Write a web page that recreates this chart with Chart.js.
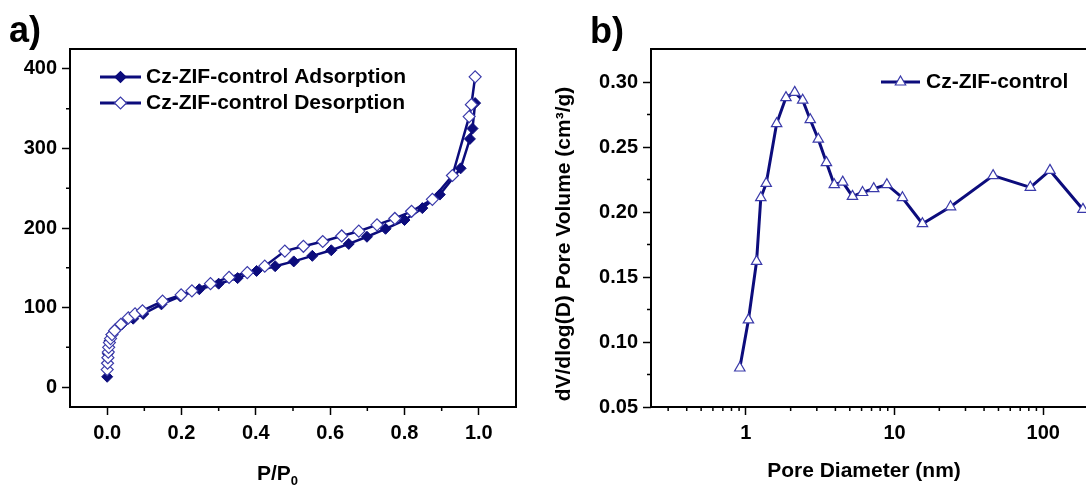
<!DOCTYPE html>
<html>
<head>
<meta charset="utf-8">
<title>Cz-ZIF-control isotherm and pore size distribution</title>
<script src="https://cdn.jsdelivr.net/npm/chart.js@4.4.1/dist/chart.umd.min.js"></script>
<style>
    html, body { margin: 0; padding: 0; background: #fff; overflow: hidden; width: 1086px; height: 485px; }
    .panel { position: absolute; top: 0; height: 485px; }
    #panelA { left: 0; width: 540px; }
    #panelB { left: 540px; width: 600px; }
</style>
</head>
<body>
<div class="panel" id="panelA"><canvas id="isoChart"></canvas></div>
<div class="panel" id="panelB"><canvas id="poreChart"></canvas></div>
<script>
// =========================================================
// Data  –  panel a) N2 isotherm
// =========================================================

const adsP = [0.000, 0.002, 0.006, 0.012, 0.022, 0.040, 0.070, 0.097, 0.146, 0.197, 0.248, 0.300,
              0.351, 0.402, 0.452, 0.502, 0.552, 0.603, 0.650, 0.699, 0.749, 0.800, 0.848, 0.895,
              0.951, 0.976, 0.983, 0.990];
const adsV = [13, 42, 58, 66, 73, 79, 86, 92, 104, 114, 123, 130,
              137, 146, 152, 158, 165, 172, 180, 189, 199, 210, 225, 242,
              275, 312, 325, 357];

const desP = [0.000, 0.001, 0.002, 0.003, 0.004, 0.006, 0.009, 0.013, 0.020, 0.037, 0.057, 0.075,
              0.095, 0.149, 0.199, 0.228, 0.278, 0.328, 0.377, 0.424, 0.478, 0.528, 0.580, 0.631,
              0.677, 0.726, 0.774, 0.819, 0.875, 0.929, 0.974, 0.980, 0.990];
const desV = [22, 30, 37, 44, 50, 56, 61, 66, 71, 79, 87, 92,
              96, 108, 116, 121, 130, 138, 144, 152, 171, 177, 183, 190,
              196, 204, 212, 221, 236, 266, 340, 355, 390];

const isoMajorX = [0.0, 0.2, 0.4, 0.6, 0.8, 1.0];
const isoMinorX = [0.1, 0.3, 0.5, 0.7, 0.9];
const isoMajorY = [0, 100, 200, 300, 400];
const isoMinorY = [50, 150, 250, 350];

// =========================================================
// Data  –  panel b) pore size distribution
// =========================================================

const poreD = [0.91, 1.04, 1.18, 1.26, 1.37, 1.61, 1.86, 2.13, 2.41, 2.71, 3.07, 3.48,
               3.93, 4.48, 5.21, 6.09, 7.24, 8.88, 11.3, 15.4, 23.8, 46.0, 81.9, 111, 185];
const poreV = [0.080, 0.117, 0.162, 0.211, 0.222, 0.268, 0.288, 0.292, 0.286, 0.271, 0.256, 0.238,
               0.221, 0.223, 0.212, 0.215, 0.218, 0.221, 0.211, 0.191, 0.204, 0.228, 0.219, 0.232, 0.202];

const poreMajorX = [1, 10, 100];
const poreMinorX = [0.3, 0.4, 0.5, 0.6, 0.7, 0.8, 0.9, 2, 3, 4, 5, 6, 7, 8, 9,
                    20, 30, 40, 50, 60, 70, 80, 90, 200];
const poreMajorY = [0.05, 0.10, 0.15, 0.20, 0.25, 0.30];
const poreMinorY = [0.075, 0.125, 0.175, 0.225, 0.275];

// =========================================================
// Shared styles
// =========================================================

const NAVY = '#0c0c7c';
const OPEN_EDGE = '#3a3aaa';
const FONT = '"Liberation Sans", Arial, Helvetica, sans-serif';
const tickFont = { family: FONT, size: 20, weight: 'bold' };

function toPoints(xs, ys) {
    return xs.map((x, i) => ({ x: x, y: ys[i] }));
}

// fixed ticks from a list, labels formatted by the callback
function fixedTicks(list) {
    return scale => { scale.ticks = list.map(v => ({ value: v })); };
}

function axisBase(extra) {
    return Object.assign({
        bounds: 'data',
        grid: { drawOnChartArea: false, drawTicks: true, tickLength: 8, tickColor: '#000', tickWidth: 1.5 },
        border: { display: false }
    }, extra);
}

// frame, minor ticks, legend, titles – drawn on top of the chart
function decorPlugin(cfg) {
    return {
        id: 'decor',
        afterDraw(chart) {
            const ctx = chart.ctx;
            const a = chart.chartArea;
            const sx = chart.scales.x, sy = chart.scales.y;
            ctx.save();

            // minor ticks
            ctx.strokeStyle = '#000';
            ctx.lineWidth = 1.5;
            ctx.beginPath();
            cfg.minorX.forEach(v => {
                const px = sx.getPixelForValue(v);
                ctx.moveTo(px, a.bottom);
                ctx.lineTo(px, a.bottom + 4);
            });
            cfg.minorY.forEach(v => {
                const py = sy.getPixelForValue(v);
                ctx.moveTo(a.left, py);
                ctx.lineTo(a.left - 4, py);
            });
            ctx.stroke();

            // frame
            ctx.lineWidth = 2;
            ctx.strokeRect(a.left, a.top, a.right - a.left, a.bottom - a.top);

            // legend
            cfg.legend.forEach(item => {
                ctx.strokeStyle = NAVY;
                ctx.lineWidth = 3;
                ctx.beginPath();
                ctx.moveTo(item.x1, item.y);
                ctx.lineTo(item.x2, item.y);
                ctx.stroke();
                ctx.fillStyle = item.fill;
                ctx.strokeStyle = item.edge;
                ctx.lineWidth = 1.2;
                Chart.helpers.drawPoint(ctx, { pointStyle: item.style, radius: item.r, rotation: 0, borderWidth: 1.2 },
                    (item.x1 + item.x2) / 2, item.y);
                ctx.fillStyle = '#000';
                ctx.font = 'bold 21px ' + FONT;
                ctx.textBaseline = 'middle';
                ctx.textAlign = 'left';
                ctx.fillText(item.text, item.tx, item.y);
            });

            // panel letter
            ctx.fillStyle = '#000';
            ctx.textBaseline = 'alphabetic';
            ctx.textAlign = 'left';
            ctx.font = 'bold 36px ' + FONT;
            ctx.fillText(cfg.letter.text, cfg.letter.x, cfg.letter.y);

            cfg.titles(ctx);
            ctx.restore();
        }
    };
}

// =========================================================
// Panel a) – isotherm
// =========================================================

new Chart(document.getElementById('isoChart'), {
    type: 'scatter',
    data: {
        datasets: [
            {
                label: 'Cz-ZIF-control Adsorption',
                data: toPoints(adsP, adsV),
                showLine: true,
                borderColor: NAVY,
                borderWidth: 2.5,
                pointStyle: 'rectRot',
                pointRadius: 5.5,
                pointBackgroundColor: NAVY,
                pointBorderColor: NAVY,
                pointBorderWidth: 1,
                order: 1
            },
            {
                label: 'Cz-ZIF-control Desorption',
                data: toPoints(desP, desV),
                showLine: true,
                borderColor: NAVY,
                borderWidth: 2.5,
                pointStyle: 'rectRot',
                pointRadius: 6,
                pointBackgroundColor: '#fff',
                pointBorderColor: OPEN_EDGE,
                pointBorderWidth: 1.2,
                order: 0
            }
        ]
    },
    options: {
        responsive: true,
        maintainAspectRatio: false,
        animation: false,
        devicePixelRatio: 1,
        layout: { padding: { left: 0, right: 24, top: 49, bottom: 0 } },
        plugins: { legend: { display: false }, tooltip: { enabled: false } },
        scales: {
            x: axisBase({
                type: 'linear', min: -0.1, max: 1.1,
                afterBuildTicks: fixedTicks(isoMajorX),
                afterFit: s => { s.height = 78; },
                ticks: { color: '#000', font: tickFont, padding: 6, maxRotation: 0, autoSkip: false,
                         callback: v => v.toFixed(1) }
            }),
            y: axisBase({
                type: 'linear', min: -25, max: 425,
                afterBuildTicks: fixedTicks(isoMajorY),
                afterFit: s => { s.width = 70; },
                ticks: { color: '#000', font: tickFont, padding: 5, autoSkip: false,
                         callback: v => String(v) }
            })
        }
    },
    plugins: [decorPlugin({
        minorX: isoMinorX,
        minorY: isoMinorY,
        letter: { text: 'a)', x: 9, y: 42 },
        legend: [
            { x1: 100, x2: 141, y: 77, style: 'rectRot', r: 5.5, fill: NAVY, edge: NAVY, tx: 146, text: 'Cz-ZIF-control Adsorption' },
            { x1: 100, x2: 141, y: 103, style: 'rectRot', r: 6, fill: '#fff', edge: OPEN_EDGE, tx: 146, text: 'Cz-ZIF-control Desorption' }
        ],
        titles: ctx => {
            ctx.font = 'bold 21px ' + FONT;
            ctx.fillText('P/P', 257, 480);
            const w = ctx.measureText('P/P').width;
            ctx.font = 'bold 13px ' + FONT;
            ctx.fillText('0', 257 + w, 485);
        }
    })]
});

// =========================================================
// Panel b) – pore size distribution
// =========================================================

new Chart(document.getElementById('poreChart'), {
    type: 'scatter',
    data: {
        datasets: [{
            label: 'Cz-ZIF-control',
            data: toPoints(poreD, poreV),
            showLine: true,
            borderColor: NAVY,
            borderWidth: 3,
            pointStyle: 'triangle',
            pointRadius: 6,
            pointBackgroundColor: '#fff',
            pointBorderColor: OPEN_EDGE,
            pointBorderWidth: 1.2
        }]
    },
    options: {
        responsive: true,
        maintainAspectRatio: false,
        animation: false,
        devicePixelRatio: 1,
        layout: { padding: { left: 0, right: 43, top: 49, bottom: 0 } },
        plugins: { legend: { display: false }, tooltip: { enabled: false } },
        scales: {
            x: axisBase({
                type: 'logarithmic', min: 0.23, max: 230,
                afterBuildTicks: fixedTicks(poreMajorX),
                afterFit: s => { s.height = 78; },
                ticks: { color: '#000', font: tickFont, padding: 6, maxRotation: 0, autoSkip: false,
                         callback: v => String(v) }
            }),
            y: axisBase({
                type: 'linear', min: 0.05, max: 0.3254,
                afterBuildTicks: fixedTicks(poreMajorY),
                afterFit: s => { s.width = 111; },
                ticks: { color: '#000', font: tickFont, padding: 5, autoSkip: false,
                         callback: v => v.toFixed(2) }
            })
        }
    },
    plugins: [decorPlugin({
        minorX: poreMinorX,
        minorY: poreMinorY,
        letter: { text: 'b)', x: 50, y: 43 },
        legend: [
            { x1: 341, x2: 380, y: 82, style: 'triangle', r: 6, fill: '#fff', edge: OPEN_EDGE, tx: 386, text: 'Cz-ZIF-control' }
        ],
        titles: ctx => {
            ctx.font = 'bold 21px ' + FONT;
            ctx.textAlign = 'center';
            ctx.fillText('Pore Diameter (nm)', 324, 477);
            ctx.save();
            ctx.translate(30, 244);
            ctx.rotate(-Math.PI / 2);
            ctx.fillText('dV/dlog(D) Pore Volume (cm\u00B3/g)', 0, 0);
            ctx.restore();
        }
    })]
});
</script>
</body>
</html>
